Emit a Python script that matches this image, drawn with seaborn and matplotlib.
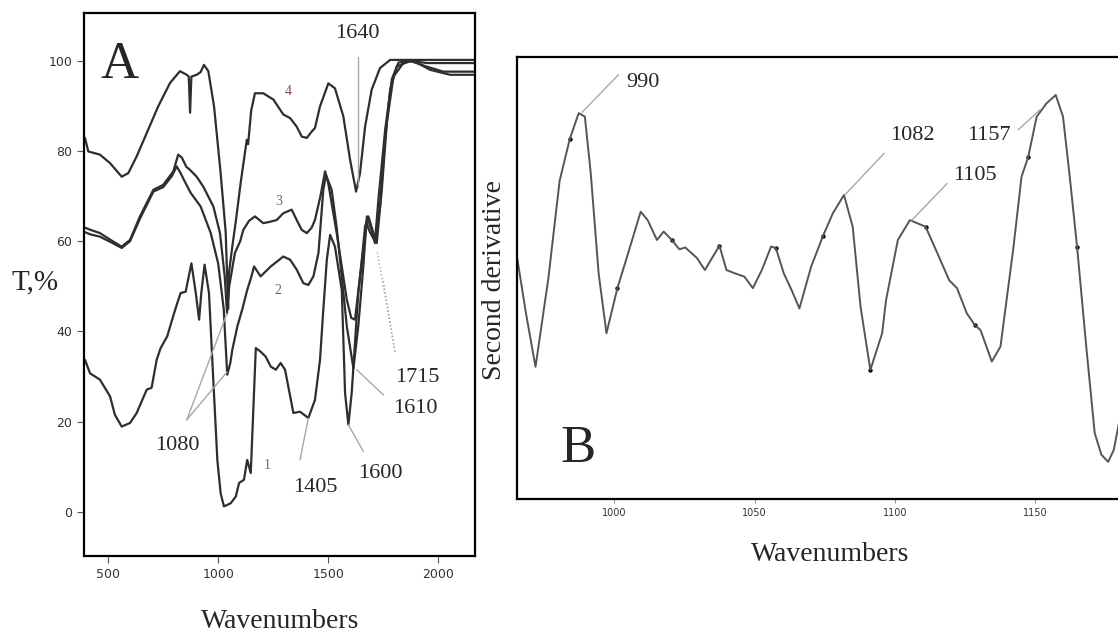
import numpy as np
import pandas as pd
import seaborn as sns
import matplotlib.pyplot as plt

# ---- Panel A: IR transmittance spectra (curves 1-4) ----
wn_1 = [394, 417, 462, 508, 530, 561, 599, 629, 675, 697, 720, 738, 768, 799,
        814, 829, 852, 878, 898, 913, 923, 938, 958, 973, 996, 1011, 1026, 1057,
        1080, 1095, 1117, 1132, 1148, 1171, 1193, 1216, 1239, 1262, 1284, 1304,
        1342, 1372, 1410, 1440, 1463, 1478, 1494, 1509, 1531, 1562, 1577, 1592,
        1607, 1622, 1637, 1653, 1668, 1683, 1706, 1721, 1744, 1767, 1797, 1842,
        1888, 1964, 2055, 2168]
t_1 = [33.7, 30.7, 29.3, 25.6, 21.5, 18.9, 19.7, 21.9, 27.1, 27.5, 33.7, 36.3,
       38.9, 44.0, 46.3, 48.5, 48.8, 55.1, 48.5, 42.6, 48.5, 54.8, 48.5, 33.7,
       11.5, 4.1, 1.2, 1.9, 3.4, 6.4, 7.1, 11.5, 8.6, 36.3, 35.5, 34.4, 32.2,
       31.5, 33.0, 31.5, 21.9, 22.2, 20.8, 24.8, 33.7, 44.8, 55.9, 61.4, 58.8,
       49.2, 26.3, 19.3, 26.3, 37.4, 48.5, 55.9, 63.3, 65.5, 61.8, 59.6, 71.4,
       86.2, 96.5, 99.5, 100.0, 98.0, 96.9, 96.9]

wn_2 = [394, 420, 462, 523, 561, 599, 644, 705, 750, 790, 811, 830, 844, 875,
        920, 966, 1000, 1025, 1041, 1055, 1064, 1087, 1110, 1132, 1150, 1163,
        1193, 1239, 1296, 1327, 1357, 1387, 1410, 1433, 1456, 1478, 1490, 1516,
        1539, 1554, 1585, 1615, 1637, 1660, 1676, 1695, 1713, 1736, 1759, 1782,
        1812, 1872, 1949, 2024, 2168]
t_2 = [62.0, 61.5, 61.0, 59.5, 58.5, 60.0, 65.0, 71.0, 72.0, 74.5, 76.6, 75.0,
       73.6, 70.7, 67.7, 61.8, 55.0, 45.0, 30.4, 33.0, 35.9, 41.1, 45.0, 49.2,
       52.0, 54.4, 52.2, 54.4, 56.6, 55.9, 53.7, 50.7, 50.3, 52.2, 57.4, 71.4,
       74.7, 71.4, 63.0, 55.9, 41.1, 31.8, 41.1, 54.4, 65.5, 63.0, 59.6, 67.7,
       82.5, 93.6, 98.7, 100.0, 98.7, 97.6, 97.6]

wn_3 = [394, 420, 462, 523, 561, 599, 644, 705, 750, 796, 818, 835, 855, 872,
        902, 932, 978, 1008, 1030, 1040, 1050, 1057, 1076, 1100, 1114, 1140,
        1167, 1205, 1235, 1266, 1296, 1334, 1357, 1380, 1403, 1425, 1440, 1465,
        1486, 1500, 1539, 1585, 1605, 1622, 1640, 1660, 1676, 1690, 1713, 1730,
        1760, 1790, 1820, 1870, 1950, 2168]
t_3 = [63.0, 62.5, 61.8, 59.9, 58.8, 60.3, 65.5, 71.4, 72.5, 75.5, 79.2, 78.5,
       76.5, 75.8, 74.3, 72.1, 67.7, 61.8, 52.0, 44.0, 50.0, 52.0, 57.4, 60.0,
       62.5, 64.5, 65.5, 64.0, 64.3, 64.7, 66.2, 67.0, 64.7, 62.5, 61.8, 63.0,
       64.7, 70.0, 75.5, 73.0, 61.8, 47.0, 43.0, 42.6, 50.0, 58.0, 64.0, 62.0,
       60.0, 70.0, 85.0, 96.0, 99.6, 100.0, 99.5, 99.5]

wn_4 = [394, 409, 462, 508, 540, 561, 591, 629, 675, 727, 781, 826, 857, 866,
        872, 878, 902, 920, 935, 955, 981, 1011, 1034, 1042, 1045, 1049, 1064,
        1080, 1102, 1130, 1136, 1150, 1167, 1205, 1251, 1266, 1296, 1327, 1357,
        1380, 1403, 1425, 1440, 1463, 1501, 1531, 1569, 1600, 1627, 1645, 1668,
        1698, 1736, 1782, 1843, 1979, 2168]
t_4 = [82.9, 79.9, 79.2, 77.3, 75.5, 74.3, 75.1, 78.8, 84.0, 89.9, 95.1, 97.7,
       96.9, 96.5, 88.5, 96.5, 96.9, 97.5, 99.1, 97.7, 89.9, 75.1, 62.0, 50.0,
       45.0, 53.0, 58.8, 64.4, 72.9, 82.5, 81.5, 89.0, 92.8, 92.8, 91.4, 90.3,
       88.1, 87.3, 85.4, 83.2, 82.9, 84.3, 85.1, 89.9, 95.0, 93.9, 87.7, 78.0,
       71.0, 75.1, 85.4, 93.6, 98.4, 100.2, 100.2, 100.2, 100.2]

# ---- Panel B: second derivative (arbitrary units) ----
wn_b = [965.3, 968.5, 971.9, 976.5, 980.5, 984.1, 987.3, 989.5, 991.6, 994.4,
        997.2, 1001.1, 1004.2, 1009.4, 1011.9, 1015.2, 1017.6, 1020.5, 1023.2,
        1025.3, 1029.5, 1032.3, 1035.1, 1037.5, 1040.0, 1042.8, 1046.4, 1049.4,
        1052.6, 1055.9, 1057.6, 1060.4, 1063.2, 1066.0, 1070.2, 1074.4, 1077.9,
        1081.9, 1085.0, 1087.8, 1091.3, 1095.5, 1096.9, 1101.1, 1105.4, 1111.0,
        1115.2, 1119.4, 1122.2, 1125.7, 1128.5, 1130.6, 1134.6, 1137.7, 1142.2,
        1145.2, 1147.6, 1150.6, 1154.1, 1157.4, 1160.0, 1162.4, 1165.0, 1168.4,
        1171.3, 1173.7, 1176.1, 1178.1, 1182.0]
v_b = [54.8, 42.0, 29.9, 50.0, 72.0, 81.4, 87.3, 86.5, 73.7, 51.1, 37.5, 47.7,
       54.1, 65.0, 63.1, 58.6, 60.5, 58.6, 56.5, 56.9, 54.5, 51.8, 54.8, 57.3,
       51.8, 51.1, 50.3, 47.7, 51.8, 57.1, 56.8, 51.1, 47.3, 43.1, 52.6, 59.5,
       64.6, 68.8, 61.6, 43.5, 29.2, 37.5, 45.0, 58.6, 63.1, 61.6, 55.6, 49.5,
       47.7, 42.0, 39.4, 38.2, 31.1, 34.5, 56.3, 72.9, 77.4, 86.5, 89.5, 91.4,
       86.5, 72.9, 57.1, 33.7, 14.9, 10.0, 8.4, 11.1, 24.0]
dot_wn = [984.1, 1001.1, 1020.5, 1037.5, 1057.6, 1074.4, 1091.3, 1111.0,
          1128.5, 1147.6, 1165.0]
dot_v = [81.4, 47.7, 58.6, 57.3, 56.8, 59.5, 29.2, 61.6, 39.4, 77.4, 57.1]

sns.set_style("white")
plt.rcParams['font.family'] = ['DejaVu Sans']
serif = 'Liberation Serif'
line_col = '#2e2e2e'
lead_col = '#a8a8a8'

fig = plt.figure(figsize=(11.18, 6.37), dpi=100)
ax_a = fig.add_axes([84 / 1118, 81 / 637, 391 / 1118, 543 / 637])
ax_b = fig.add_axes([517 / 1118, 138 / 637, 608 / 1118, 442 / 637])

# Panel A curves
for wn, t in [(wn_1, t_1), (wn_2, t_2), (wn_3, t_3), (wn_4, t_4)]:
    df = pd.DataFrame({'wn': wn, 't': t})
    sns.lineplot(data=df, x='wn', y='t', sort=False, estimator=None,
                 color=line_col, linewidth=1.6, ax=ax_a)

ax_a.set_xlim(389.5, 2168)
ax_a.set_ylim(-9.8, 110.6)
ax_a.set_xticks([500, 1000, 1500, 2000])
ax_a.set_yticks([0, 20, 40, 60, 80, 100])
ax_a.tick_params(axis='both', direction='out', length=5, width=0.8,
                 colors='#555555', labelsize=9, labelcolor='#333333',
                 bottom=True, left=True)
ax_a.set_xlabel('Wavenumbers', family=serif, fontsize=20)
ax_a.set_ylabel('T,%', family=serif, fontsize=21, rotation=0, va='center')
ax_a.xaxis.set_label_coords(0.501, -0.098)
ax_a.yaxis.set_label_coords(-0.125, 0.503)
for sp in ax_a.spines.values():
    sp.set_color('black')
    sp.set_linewidth(1.6)

ax_a.text(553, 96.2, 'A', family=serif, fontsize=38, ha='center',
          va='baseline')

# curve numbers
ax_a.text(1318, 92.5, '4', family=serif, fontsize=10, color='#8a4b4b',
          ha='center', va='baseline')
ax_a.text(1273, 68.0, '3', family=serif, fontsize=10, color='#7a5d8c',
          ha='center', va='baseline')
ax_a.text(1273, 48.3, '2', family=serif, fontsize=10, color='#6a6a6a',
          ha='center', va='baseline')
ax_a.text(1222, 9.5, '1', family=serif, fontsize=10, color='#56709e',
          ha='center', va='baseline')

# peak labels panel A
ax_a.plot([1634, 1634], [100.9, 72.0], color=lead_col, lw=1)
ax_a.text(1531, 105.1, '1640', family=serif, fontsize=16, va='baseline')
ax_a.plot([857, 1040], [20.4, 31.0], color=lead_col, lw=1)
ax_a.plot([857, 1040], [20.4, 44.0], color=lead_col, lw=1)
ax_a.text(712, 13.7, '1080', family=serif, fontsize=16, va='baseline')
ax_a.plot([1372, 1410], [11.5, 20.8], color=lead_col, lw=1)
ax_a.text(1340, 4.4, '1405', family=serif, fontsize=16, va='baseline')
ax_a.plot([1660, 1592], [13.4, 19.3], color=lead_col, lw=1)
ax_a.text(1636, 7.5, '1600', family=serif, fontsize=16, va='baseline')
ax_a.plot([1804, 1750], [35.5, 51.5], color=lead_col, lw=1, ls=':')
ax_a.plot([1804, 1722], [35.5, 58.0], color=lead_col, lw=1, ls=':')
ax_a.text(1804, 28.8, '1715', family=serif, fontsize=16, va='baseline')
ax_a.plot([1752, 1630], [25.9, 31.5], color=lead_col, lw=1)
ax_a.text(1795, 22.0, '1610', family=serif, fontsize=16, va='baseline')

# Panel B
df_b = pd.DataFrame({'wn': wn_b, 'v': v_b})
sns.lineplot(data=df_b, x='wn', y='v', sort=False, estimator=None,
             color='#555555', linewidth=1.4, ax=ax_b)
sns.scatterplot(x=dot_wn, y=dot_v, color='black', s=10, linewidth=0,
                ax=ax_b)
ax_b.set_xlim(965.3, 1182.1)
ax_b.set_ylim(0, 100)
ax_b.set_xticks([1000, 1050, 1100, 1150])
ax_b.set_yticks([])
ax_b.tick_params(axis='x', direction='out', length=3, width=0.6,
                 colors='#777777', labelsize=7, labelcolor='#333333',
                 bottom=True)
ax_b.set_xlabel('Wavenumbers', family=serif, fontsize=20)
ax_b.set_ylabel('Second derivative', family=serif, fontsize=20)
ax_b.xaxis.set_label_coords(0.515, -0.097)
ax_b.yaxis.set_label_coords(-0.016, 0.495)
for sp in ax_b.spines.values():
    sp.set_color('black')
    sp.set_linewidth(1.6)

ax_b.text(987.1, 8.4, 'B', family=serif, fontsize=38, ha='center',
          va='baseline')

ax_b.plot([988.5, 1001.5], [87.5, 96.0], color=lead_col, lw=1)
ax_b.text(1004.1, 93.3, '990', family=serif, fontsize=16, va='baseline')
ax_b.plot([1082.2, 1096.2], [68.8, 78.2], color=lead_col, lw=1)
ax_b.text(1098.2, 81.2, '1082', family=serif, fontsize=16, va='baseline')
ax_b.plot([1106.1, 1118.7], [63.1, 71.4], color=lead_col, lw=1)
ax_b.text(1120.8, 72.2, '1105', family=serif, fontsize=16, va='baseline')
ax_b.plot([1144.0, 1151.7], [83.5, 88.0], color=lead_col, lw=1)
ax_b.text(1125.7, 81.2, '1157', family=serif, fontsize=16, va='baseline')

fig.savefig('out.png', dpi=100)
